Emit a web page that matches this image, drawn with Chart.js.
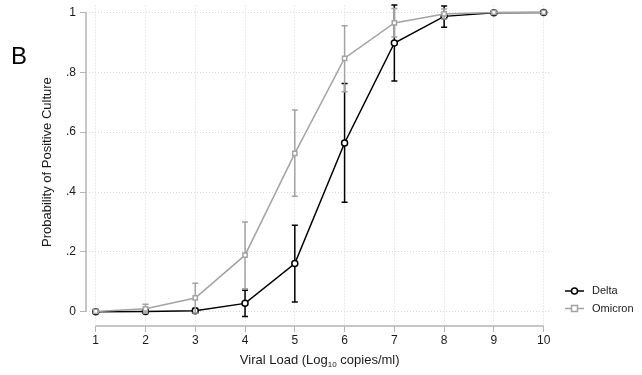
<!DOCTYPE html>
<html>
<head>
<meta charset="utf-8">
<script src="https://cdn.jsdelivr.net/npm/chart.js@4.4.1/dist/chart.umd.min.js"></script>
<style>
  body { margin: 0; background: #fff; }
  #wrap { width: 642px; height: 375px; }
</style>
</head>
<body>
<div id="wrap"><canvas id="chart" width="642" height="375"></canvas></div>
<script>
// viral load (log10 copies/ml)
const xVals = [1, 2, 3, 4, 5, 6, 7, 8, 9, 10];
const xTicks = [1, 2, 3, 4, 5, 6, 7, 8, 9, 10];
const yTicks = [0, 0.2, 0.4, 0.6, 0.8, 1];
const yTickLabels = ["0", ".2", ".4", ".6", ".8", "1"];

const deltaProb = [0, 0.001, 0.003, 0.028, 0.161, 0.564, 0.898, 0.987, 0.999, 1.0];
const deltaLow  = [0, -0.002, -0.005, -0.016, 0.033, 0.366, 0.771, 0.951, 0.998, 1.0];
const deltaHigh = [0, 0.004, 0.011, 0.072, 0.289, 0.763, 1.025, 1.022, 1.0, 1.0];

const omicronProb = [0.001, 0.01, 0.046, 0.189, 0.529, 0.847, 0.965, 0.995, 1.0, 1.0];
const omicronLow  = [-0.002, -0.004, -0.004, 0.077, 0.386, 0.735, 0.918, 0.978, 0.999, 1.0];
const omicronHigh = [0.004, 0.025, 0.095, 0.300, 0.674, 0.956, 1.013, 1.012, 1.001, 1.0];

const FONT = "'Liberation Sans', Arial, Helvetica, sans-serif";
const axisGray = "#b4b4b4";
const gridGray = "#d9d9d9";

// error bars, drawn just under each dataset's line
const errorBars = {
  id: "errorBars",
  beforeDatasetDraw(chart, args) {
    const ds = chart.data.datasets[args.index];
    if (!ds.low) return;
    const ctx = chart.ctx;
    const x = chart.scales.x, y = chart.scales.y;
    ctx.save();
    ctx.strokeStyle = ds.borderColor;
    ctx.lineWidth = 1.5;
    for (let i = 0; i < ds.data.length; i++) {
      const px = x.getPixelForValue(ds.data[i].x);
      const lo = y.getPixelForValue(ds.low[i]);
      const hi = y.getPixelForValue(ds.high[i]);
      if (Math.abs(lo - hi) < 1) continue;
      ctx.beginPath();
      ctx.moveTo(px, lo); ctx.lineTo(px, hi);
      ctx.moveTo(px - 3, lo); ctx.lineTo(px + 3, lo);
      ctx.moveTo(px - 3, hi); ctx.lineTo(px + 3, hi);
      ctx.stroke();
    }
    ctx.restore();
  }
};

// stata-ish axes, titles, legend and panel letter
const decor = {
  id: "decor",
  afterDraw(chart) {
    const ctx = chart.ctx;
    const x = chart.scales.x, y = chart.scales.y;
    const area = chart.chartArea;
    ctx.save();
    ctx.strokeStyle = axisGray;
    ctx.lineWidth = 1.5;
    ctx.beginPath();
    ctx.moveTo(area.left, y.getPixelForValue(yTicks[0]));
    ctx.lineTo(area.left, y.getPixelForValue(yTicks[yTicks.length - 1]));
    ctx.moveTo(x.getPixelForValue(xTicks[0]), area.bottom);
    ctx.lineTo(x.getPixelForValue(xTicks[xTicks.length - 1]), area.bottom);
    ctx.stroke();

    ctx.fillStyle = "#1a1a1a";
    // x title with subscript
    const p1 = "Viral Load (Log", p2 = "10", p3 = " copies/ml)";
    ctx.font = "13px " + FONT;
    const w1 = ctx.measureText(p1).width, w3 = ctx.measureText(p3).width;
    ctx.font = "8px " + FONT;
    const w2 = ctx.measureText(p2).width;
    const cx = (x.getPixelForValue(xTicks[0]) + x.getPixelForValue(xTicks[xTicks.length - 1])) / 2;
    let sx = cx - (w1 + w2 + w3) / 2;
    ctx.textBaseline = "alphabetic";
    ctx.textAlign = "left";
    ctx.font = "13px " + FONT;
    ctx.fillText(p1, sx, 364);
    ctx.font = "8px " + FONT;
    ctx.fillText(p2, sx + w1, 367);
    ctx.font = "13px " + FONT;
    ctx.fillText(p3, sx + w1 + w2, 364);

    // y title
    const cy = (y.getPixelForValue(yTicks[0]) + y.getPixelForValue(yTicks[yTicks.length - 1])) / 2;
    ctx.save();
    ctx.translate(47, cy);
    ctx.rotate(-Math.PI / 2);
    ctx.textAlign = "center";
    ctx.textBaseline = "middle";
    ctx.fillText("Probability of Positive Culture", 0, 0);
    ctx.restore();

    // panel letter
    ctx.font = "24px " + FONT;
    ctx.fillStyle = "#000";
    ctx.fillText("B", 11, 63.5);

    // legend
    const rows = [291, 308.5];
    chart.data.datasets.slice().sort((a, b) => a.legendPos - b.legendPos).forEach((ds, i) => {
      const ly = rows[i];
      ctx.strokeStyle = ds.borderColor;
      ctx.lineWidth = 1.5;
      ctx.beginPath();
      ctx.moveTo(565, ly); ctx.lineTo(584, ly);
      ctx.stroke();
      ctx.fillStyle = "#fff";
      ctx.beginPath();
      if (ds.pointStyle === "rect") ctx.rect(571.5, ly - 3, 6, 6);
      else ctx.arc(574.5, ly, 3, 0, Math.PI * 2);
      ctx.fill(); ctx.stroke();
      ctx.fillStyle = "#1a1a1a";
      ctx.font = "11px " + FONT;
      ctx.textAlign = "left";
      ctx.textBaseline = "middle";
      ctx.fillText(ds.label, 592, ly);
    });
    ctx.restore();
  }
};

const toPts = (vals) => vals.map((v, i) => ({ x: xVals[i], y: v }));

new Chart(document.getElementById("chart"), {
  type: "line",
  data: {
    datasets: [
      {
        label: "Delta",
        data: toPts(deltaProb),
        low: deltaLow, high: deltaHigh,
        legendPos: 0,
        order: 1,
        borderColor: "#000000",
        borderWidth: 1.5,
        pointStyle: "circle",
        pointRadius: 3,
        pointBorderWidth: 1.5,
        pointBackgroundColor: "#ffffff",
        tension: 0
      },
      {
        label: "Omicron",
        data: toPts(omicronProb),
        low: omicronLow, high: omicronHigh,
        legendPos: 1,
        order: 0,
        borderColor: "#a3a3a3",
        borderWidth: 1.5,
        pointStyle: "rect",
        pointRadius: 3,
        pointBorderWidth: 1.5,
        pointBackgroundColor: "#ffffff",
        tension: 0
      }
    ]
  },
  options: {
    responsive: false,
    animation: false,
    events: [],
    layout: { padding: { left: 0, top: 4, right: 91, bottom: 0 } },
    plugins: { legend: { display: false }, tooltip: { enabled: false } },
    scales: {
      x: {
        type: "linear",
        min: 0.805,
        max: 10.147,
        afterBuildTicks: (s) => { s.ticks = xTicks.map(v => ({ value: v })); },
        afterFit: (s) => { s.height = 49; s.paddingLeft = 0; s.paddingRight = 0; },
        ticks: { color: "#1a1a1a", font: { family: FONT, size: 12 }, padding: 1, maxRotation: 0 },
        grid: { color: gridGray, lineWidth: 1, tickLength: 6, tickColor: axisGray, tickWidth: 1 },
        border: { display: false, dash: [1, 2] }
      },
      y: {
        type: "linear",
        min: -0.0476,
        max: 1.0233,
        afterBuildTicks: (s) => { s.ticks = yTicks.map(v => ({ value: v })); },
        afterFit: (s) => { s.width = 86; s.paddingTop = 0; s.paddingBottom = 0; },
        ticks: {
          color: "#1a1a1a",
          font: { family: FONT, size: 12 },
          padding: 4,
          callback: (v) => yTickLabels[yTicks.indexOf(v)]
        },
        grid: { color: gridGray, lineWidth: 1, tickLength: 6, tickColor: axisGray, tickWidth: 1 },
        border: { display: false, dash: [1, 2] }
      }
    }
  },
  plugins: [errorBars, decor]
});
</script>
</body>
</html>
